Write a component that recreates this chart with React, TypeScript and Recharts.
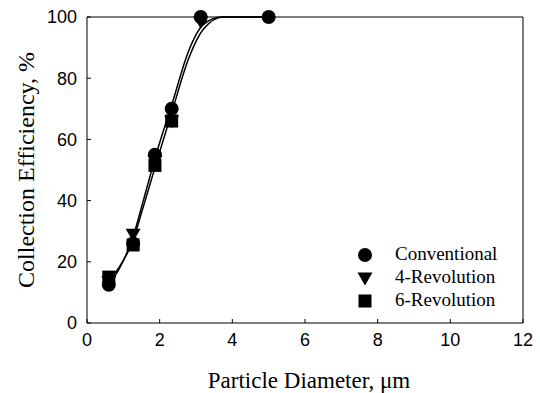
import React from "react";
import {
  ComposedChart,
  Legend,
  Line,
  ReferenceLine,
  Scatter,
  XAxis,
  YAxis,
} from "recharts";

// measured points, particle diameter (µm) vs collection efficiency (%)
const conventionalX = [0.6, 1.27, 1.87, 2.33, 3.13, 5.0];
const conventionalY = [12.5, 26, 55, 70, 100, 100];
const rev4X = [0.6, 1.27, 1.87, 2.33, 3.13];
const rev4Y = [13.5, 29, 53, 66, 98.5];
const rev6X = [0.6, 1.27, 1.87, 2.33];
const rev6Y = [15, 25.5, 51.5, 66];

// fitted curves
const fitConvX = [0.6, 0.9, 1.25, 1.55, 1.9, 2.35, 2.8, 3.2, 3.7, 5.0];
const fitConvY = [12.5, 18, 27.5, 40, 55, 72, 89, 97.5, 100, 100];
const fitRevX = [0.6, 0.9, 1.25, 1.55, 1.9, 2.35, 2.8, 3.2, 3.75, 5.0];
const fitRevY = [14, 18.5, 26.5, 38, 52, 69.5, 86.5, 96, 100, 100];

const xTicks = [0, 2, 4, 6, 8, 10, 12];
const yTicks = [0, 20, 40, 60, 80, 100];

const zip = (xs: number[], ys: number[]) => xs.map((x, i) => ({ x, y: ys[i] }));

const SANS = "'Liberation Sans', Arial, sans-serif";
const SERIF = "'Liberation Serif', 'Times New Roman', serif";

function CircleMark({ cx, cy }: any) {
  return <circle cx={cx} cy={cy} r={7} fill="#000" />;
}
function TriMark({ cx, cy }: any) {
  const s = 7.5;
  return <polygon points={`${cx - s},${cy - s * 0.75} ${cx + s},${cy - s * 0.75} ${cx},${cy + s}`} fill="#000" />;
}
function SquareMark({ cx, cy }: any) {
  return <rect x={cx - 6.5} y={cy - 6.5} width={13} height={13} fill="#000" />;
}

const legendRows = [
  { name: "Conventional", Mark: CircleMark },
  { name: "4-Revolution", Mark: TriMark },
  { name: "6-Revolution", Mark: SquareMark },
];

function LegendBox() {
  return (
    <svg width={150} height={72}>
      {legendRows.map((r, i) => (
        <g key={r.name}>
          <r.Mark cx={10} cy={12 + i * 23} />
          <text x={40} y={17 + i * 23} fontFamily={SERIF} fontSize={19} fill="#000">
            {r.name}
          </text>
        </g>
      ))}
    </svg>
  );
}

export default function App() {
  return (
    <div style={{ position: "absolute", left: 0, top: 0, width: 540, height: 393, background: "#fff" }}>
      <ComposedChart width={540} height={393} margin={{ top: 17, right: 17, bottom: 0, left: 0 }}>
        <XAxis
          type="number"
          dataKey="x"
          domain={[0, 12]}
          ticks={xTicks}
          height={70}
          stroke="#000"
          tickSize={-4}
          tickMargin={14}
          tick={{ fontSize: 18, fill: "#000", fontFamily: SANS }}
          label={{
            content: ({ viewBox }: any) => (
              <text
                x={viewBox.x + viewBox.width / 2 + 4}
                y={viewBox.y + 65}
                textAnchor="middle"
                fontFamily={SERIF}
                fontSize={23}
                fill="#000"
              >
                Particle Diameter, μm
              </text>
            ),
          }}
        />
        <YAxis
          type="number"
          domain={[0, 100]}
          ticks={yTicks}
          width={87}
          stroke="#000"
          tickSize={-4}
          tickMargin={14}
          tick={{ fontSize: 18, fill: "#000", fontFamily: SANS }}
          label={{
            content: ({ viewBox }: any) => {
              const cx = 34;
              const cy = viewBox.y + viewBox.height / 2;
              return (
                <text
                  x={cx}
                  y={cy}
                  transform={`rotate(-90 ${cx} ${cy})`}
                  textAnchor="middle"
                  fontFamily={SERIF}
                  fontSize={24}
                  fill="#000"
                >
                  Collection Efficiency, %
                </text>
              );
            },
          }}
        />
        <ReferenceLine y={100} stroke="#000" />
        <ReferenceLine x={12} stroke="#000" />
        <Line data={zip(fitConvX, fitConvY)} dataKey="y" type="monotone" stroke="#000" strokeWidth={1.5} dot={false} isAnimationActive={false} />
        <Line data={zip(fitRevX, fitRevY)} dataKey="y" type="monotone" stroke="#000" strokeWidth={1.5} dot={false} isAnimationActive={false} />
        <Scatter data={zip(rev6X, rev6Y)} dataKey="y" shape={SquareMark} isAnimationActive={false} />
        <Scatter data={zip(rev4X, rev4Y)} dataKey="y" shape={TriMark} isAnimationActive={false} />
        <Scatter data={zip(conventionalX, conventionalY)} dataKey="y" shape={CircleMark} isAnimationActive={false} />
        <Legend
          layout="vertical"
          align="center"
          verticalAlign="middle"
          wrapperStyle={{ left: 355, top: 243, width: 150 }}
          content={() => <LegendBox />}
        />
      </ComposedChart>
    </div>
  );
}
